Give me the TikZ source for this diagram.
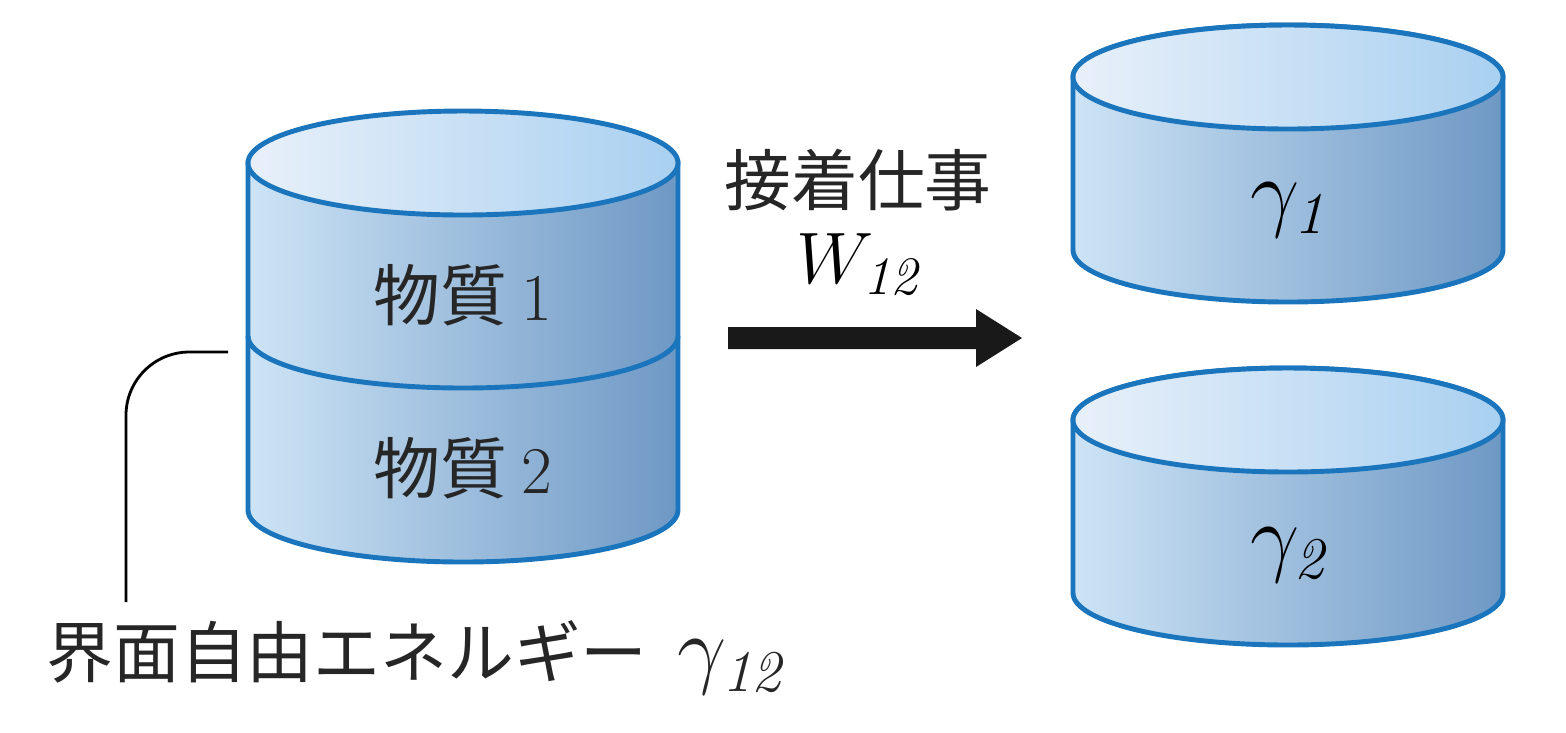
\documentclass[tikz,border=0pt]{standalone}
\usepackage{fontspec}
\newfontfamily\cjk{Noto Sans CJK JP}
\definecolor{edgec}{HTML}{1B75BC}
\definecolor{sideL}{HTML}{CDE4F6}
\definecolor{sideR}{HTML}{6E98C4}
\definecolor{topL}{HTML}{E8F0FA}
\definecolor{topR}{HTML}{A9D0F0}
\begin{document}
\begin{tikzpicture}[x=0.01cm,y=0.01cm,
  edge/.style={draw=edgec,line width=1.4pt},
  side/.style={edge,left color=sideL,right color=sideR},
  top/.style={edge,left color=topL,right color=topR},
  lbl/.style={font=\cjk\fontsize{19}{22}\selectfont,text=black!85}]
\useasboundingbox (0,0) rectangle (1566,-732);
\newcommand\mycyl[3]{%
  \path[side] (#1-215,-#2) -- (#1-215,-#3) arc[start angle=180,end angle=360,x radius=215,y radius=52] -- (#1+215,-#2) arc[start angle=0,end angle=180,x radius=215,y radius=52] -- cycle;
  \path[top] (#1,-#2) ellipse[x radius=215,y radius=52];}
% left stacked cylinder
\path[side] (463-215,-163) -- (463-215,-510) arc[start angle=180,end angle=360,x radius=215,y radius=52] -- (463+215,-163) -- cycle;
\draw[edge] (463-215,-336) arc[start angle=180,end angle=360,x radius=215,y radius=52];
\path[top] (463,-163) ellipse[x radius=215,y radius=52];
\mycyl{1288}{77}{250}
\mycyl{1288}{420}{593}
\node[lbl] (m1) at (463,-295) {物質 \textrm{1}};
\node[lbl] (m2) at (463,-468) {物質 \textrm{2}};
\node[lbl] (wa) at (858,-180) {接着仕事};
\node[font=\fontsize{22}{24}\selectfont] (w) at (858,-265) {$W_{\mathit{12}}$};
\node[font=\fontsize{24}{26}\selectfont] (g1) at (1288,-210) {$\gamma_{\mathit{1}}$};
\node[font=\fontsize{24}{26}\selectfont] (g2) at (1288,-555) {$\gamma_{\mathit{2}}$};
\node[lbl,anchor=west] (ife) at (34,-658) {界面自由エネルギー\ \ \fontsize{24}{26}\selectfont$\gamma_{\mathit{12}}$};
% arrow
\fill[black!90] (728,-327) -- (976,-327) -- (976,-309) -- (1022,-338) -- (976,-367) -- (976,-349) -- (728,-349) -- cycle;
% bracket
\coordinate (b0) at (228,-352);
\coordinate (b1) at (126,-602);
\draw[line width=0.8pt,rounded corners=18] (b0) -- (126,-352) -- (b1);
\end{tikzpicture}
\end{document}
